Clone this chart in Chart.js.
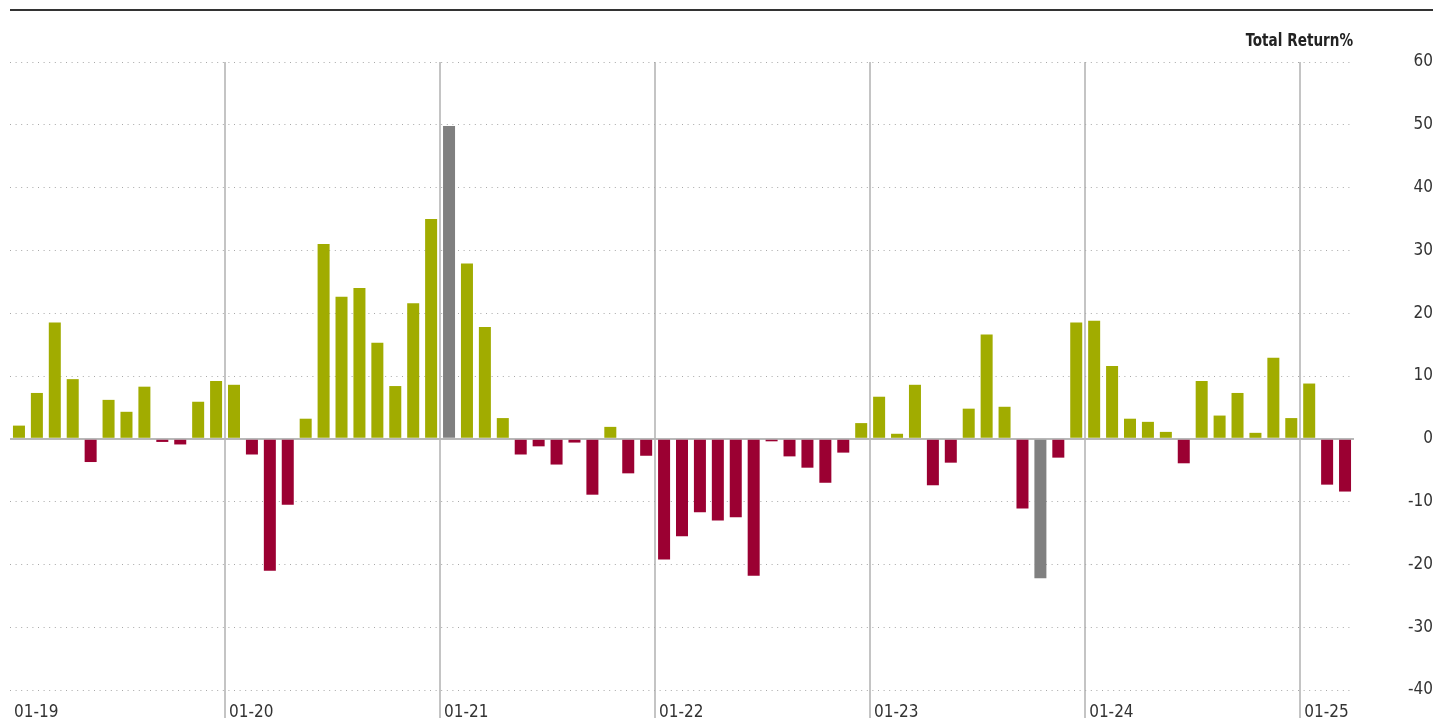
<!DOCTYPE html>
<html lang="en">
<head>
    <meta charset="UTF-8">
    <title>Total Return% - Monthly</title>
    <script src="https://cdn.jsdelivr.net/npm/chart.js"></script>
    <style>
        body { margin: 0; background: #fff; }
        #wrap { position: relative; width: 1433px; height: 723px; overflow: hidden; }
        #topRule { position: absolute; left: 10px; right: 0; top: 9px; height: 2px; background: #333; }
        #title {
            position: absolute; right: 80px; top: 29px;
            font: bold 18px "Liberation Sans Narrow", "DejaVu Sans Condensed", sans-serif;
            color: #222;
            transform: scaleX(0.84);
            transform-origin: right center;
        }
    </style>
</head>
<body>
    <div id="wrap">
        <div id="topRule"></div>
        <div id="title">Total Return%</div>
        <canvas id="barChart" width="1433" height="723"></canvas>
    </div>

    <script>
        // monthly periods, 01-19 .. 03-25
        const months = [
            '01-19', '02-19', '03-19', '04-19', '05-19', '06-19', '07-19', '08-19', '09-19', '10-19', '11-19', '12-19',
            '01-20', '02-20', '03-20', '04-20', '05-20', '06-20', '07-20', '08-20', '09-20', '10-20', '11-20', '12-20',
            '01-21', '02-21', '03-21', '04-21', '05-21', '06-21', '07-21', '08-21', '09-21', '10-21', '11-21', '12-21',
            '01-22', '02-22', '03-22', '04-22', '05-22', '06-22', '07-22', '08-22', '09-22', '10-22', '11-22', '12-22',
            '01-23', '02-23', '03-23', '04-23', '05-23', '06-23', '07-23', '08-23', '09-23', '10-23', '11-23', '12-23',
            '01-24', '02-24', '03-24', '04-24', '05-24', '06-24', '07-24', '08-24', '09-24', '10-24', '11-24', '12-24',
            '01-25', '02-25', '03-25'
        ];

        const returns2019 = [2.1, 7.3, 18.5, 9.5, -3.7, 6.2, 4.3, 8.3, -0.5, -0.9, 5.9, 9.2];
        const returns2020 = [8.6, -2.5, -21.0, -10.5, 3.2, 31.0, 22.6, 24.0, 15.3, 8.4, 21.6, 35.0];
        const returns2021 = [49.8, 27.9, 17.8, 3.3, -2.5, -1.2, -4.1, -0.6, -8.9, 1.9, -5.5, -2.7];
        const returns2022 = [-19.2, -15.5, -11.7, -13.0, -12.5, -21.8, -0.4, -2.8, -4.6, -7.0, -2.2, 2.5];
        const returns2023 = [6.7, 0.8, 8.6, -7.4, -3.8, 4.8, 16.6, 5.1, -11.1, -22.2, -3.0, 18.5];
        const returns2024 = [18.8, 11.6, 3.2, 2.7, 1.1, -3.9, 9.2, 3.7, 7.3, 0.95, 12.9, 3.3];
        const returns2025 = [8.8, -7.3, -8.4];

        const yTicks = [60, 50, 40, 30, 20, 10, 0, -10, -20, -30, -40];

        const values = [].concat(returns2019, returns2020, returns2021, returns2022, returns2023, returns2024, returns2025);

        const GREEN = '#a1ac00';
        const RED = '#9b0032';
        const GREY = '#808080';
        const maxVal = Math.max(...values);
        const minVal = Math.min(...values);

        const labelFont = { family: '"Liberation Sans Narrow", "DejaVu Sans Condensed", sans-serif', size: 17 };

        function barColour(ctx) {
            const v = ctx.raw;
            if (v === maxVal || v === minVal) return GREY;
            return v >= 0 ? GREEN : RED;
        }

        const ctx = document.getElementById('barChart').getContext('2d');
        new Chart(ctx, {
            type: 'bar',
            data: {
                labels: months,
                datasets: [{
                    label: 'Total Return%',
                    data: values,
                    backgroundColor: barColour,
                    borderWidth: 0,
                    barPercentage: 0.67,
                    categoryPercentage: 1
                }]
            },
            options: {
                responsive: false,
                animation: false,
                layout: { padding: { top: 62, left: 10, right: 0, bottom: 0 } },
                plugins: {
                    legend: { display: false },
                    tooltip: { enabled: false }
                },
                scales: {
                    x: {
                        offset: true,
                        grid: {
                            offset: true,
                            lineWidth: 2,
                            color: function(c) {
                                const i = c.index;
                                return (i > 0 && i < months.length && i % 12 === 0) ? '#c4c4c4' : 'rgba(0,0,0,0)';
                            },
                            tickLength: 28,
                            drawOnChartArea: true
                        },
                        border: { display: false },
                        ticks: {
                            autoSkip: false,
                            maxRotation: 0,
                            align: 'start',
                            labelOffset: -5,
                            padding: -16,
                            color: '#333',
                            font: labelFont,
                            callback: function(value) {
                                const lbl = this.getLabelForValue(value);
                                return lbl.startsWith('01-') ? lbl : '';
                            }
                        },
                        afterFit: function(scale) { scale.height = 33; }
                    },
                    y: {
                        position: 'right',
                        min: yTicks[yTicks.length - 1],
                        max: yTicks[0],
                        afterBuildTicks: function(scale) {
                            scale.ticks = yTicks.slice().reverse().map(v => ({ value: v }));
                        },
                        grid: {
                            drawTicks: false,
                            color: function(c) {
                                return c.tick && c.tick.value === 0 ? '#b8b8b8' : '#a8a8a8';
                            },
                            lineWidth: function(c) {
                                return c.tick && c.tick.value === 0 ? 2 : 1;
                            }
                        },
                        border: {
                            display: false,
                            dash: function(c) {
                                return c.tick && c.tick.value === 0 ? [] : [1, 4.6];
                            }
                        },
                        ticks: {
                            crossAlign: 'far',
                            color: '#333',
                            font: labelFont
                        },
                        afterFit: function(scale) { scale.width = 79; }
                    }
                }
            }
        });
    </script>
</body>
</html>
